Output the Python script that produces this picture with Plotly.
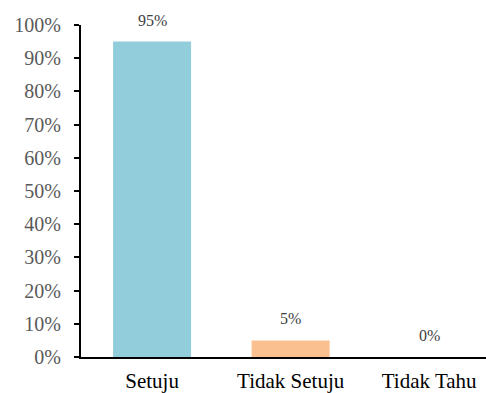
import plotly.graph_objects as go

categories = ["Setuju", "Tidak Setuju", "Tidak Tahu"]
values = [0.95, 0.05, 0.0]
labels = ["95%", "5%", "0%"]
colors = ["#92CDDC", "#FAC090", "#B3A2C7"]

SERIF = "'Liberation Serif', 'Times New Roman', 'DejaVu Serif', serif"

fig = go.Figure()
fig.add_trace(go.Bar(
    x=categories, y=values, marker_color=colors, width=0.563,
    marker_line_width=0, showlegend=False,
))
for c, v, t in zip(categories, values, labels):
    fig.add_annotation(x=c, y=v, text=t, showarrow=False, yanchor="bottom",
                       yshift=11, font=dict(family=SERIF, size=16, color="#404040"))

fig.update_layout(
    width=486, height=393, margin=dict(l=81, r=0, t=25, b=36),
    paper_bgcolor="white", plot_bgcolor="white",
    font=dict(family=SERIF),
)
fig.update_xaxes(
    range=[-0.513, 2.41], showline=True, linecolor="black", linewidth=2,
    ticks="", ticklabelstandoff=4, automargin=False,
    tickfont=dict(family=SERIF, size=21, color="black"),
    showgrid=False, zeroline=False,
)
fig.update_yaxes(
    range=[0, 1], tickvals=[i / 10 for i in range(11)], tickformat=".0%",
    showline=True, linecolor="black", linewidth=2, ticks="outside", ticklen=5,
    tickcolor="black", tickwidth=2, ticklabelstandoff=9, automargin=False,
    tickfont=dict(family=SERIF, size=20, color="#595959"),
    showgrid=False, zeroline=False,
)
fig.write_html("out.html")
